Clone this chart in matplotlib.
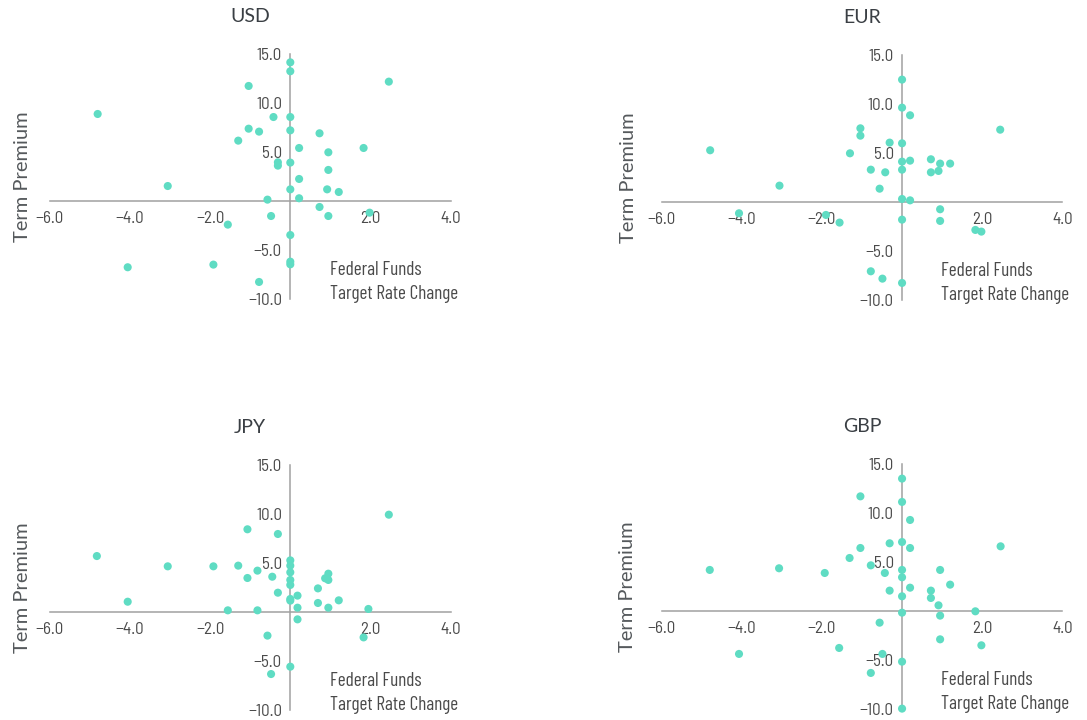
import matplotlib
matplotlib.use("Agg")
import matplotlib.pyplot as plt
from matplotlib import font_manager

# ---------------- data ----------------
usd_x = [0, 0, 2.46, -1.04, -4.81, -0.42, 0, -1.04, -0.78, 0, 0.73, -1.30, 0.22, 1.83,
         0.95, -0.31, -0.31, 0, 0.95, 0.22, -3.06, 0, 0.92, 1.21, 0.22, -0.57, 0.73,
         1.98, -0.48, 0.95, -1.56, 0, 0, 0, -4.06, -1.92, -0.78]
usd_y = [14.18, 13.27, 12.21, 11.77, 8.91, 8.60, 8.60, 7.41, 7.11, 7.24, 6.94, 6.19, 5.44,
         5.44, 5.00, 3.98, 3.64, 3.95, 3.20, 2.28, 1.56, 1.22, 1.22, 0.95, 0.31, 0.17,
         -0.58, -1.16, -1.50, -1.50, -2.38, -3.44, -6.16, -6.43, -6.73, -6.46, -8.23]

eur_x = [0, 0, 0.20, -1.04, -1.04, 2.45, -0.31, 0, -4.79, -1.30, 0.72, 0.20, 0, 0.95,
         1.20, -0.78, -0.42, 0, 0.72, 0.91, -3.06, -0.56, 0, 0.20, -4.07, 0.95, -1.90,
         -1.56, 0, 0.95, 1.83, 1.98, -0.78, -0.49, 0]
eur_y = [12.52, 9.66, 8.88, 7.55, 6.80, 7.41, 6.09, 6.02, 5.31, 5.00, 4.39, 4.25, 4.15,
         3.95, 3.95, 3.33, 3.06, 3.33, 3.06, 3.20, 1.70, 1.39, 0.34, 0.20, -1.12, -0.71,
         -1.29, -2.07, -1.77, -1.90, -2.82, -2.99, -7.04, -7.79, -8.23]

jpy_x = [2.46, -1.07, -0.31, -4.83, 0, 0, -3.06, -1.92, -1.30, -0.82, 0, 0.95, -1.07,
         -0.45, 0.87, 0.95, 0, 0, 0.69, -0.31, 0.18, 0, 0, 1.21, -4.06, 0.69, 0.18, 0.95,
         -1.56, -0.82, 1.95, 0.18, -0.57, 1.83, 0, -0.48]
jpy_y = [9.93, 8.44, 7.96, 5.71, 5.27, 4.73, 4.66, 4.66, 4.73, 4.22, 4.05, 3.91, 3.47,
         3.60, 3.44, 3.27, 3.27, 2.76, 2.41, 1.97, 1.67, 1.33, 1.16, 1.19, 1.05, 0.92,
         0.44, 0.44, 0.17, 0.17, 0.31, -0.75, -2.41, -2.59, -5.58, -6.33]

gbp_x = [0, 0, -1.04, 0.20, -0.31, 0, -1.04, 0.20, 2.46, -1.31, -0.78, -4.80, -3.07, 0,
         0.95, -1.93, -0.43, 0, 1.20, 0.20, -0.31, 0.72, 0, 0.72, 0.91, 0, 1.83, 0.95,
         -0.56, 0.95, -1.57, 1.98, -4.07, -0.49, 0, -0.78, 0]
gbp_y = [13.54, 11.16, 11.73, 9.32, 6.94, 7.07, 6.46, 6.46, 6.63, 5.44, 4.69, 4.22, 4.39,
         4.22, 4.22, 3.91, 3.91, 3.47, 2.72, 2.41, 2.11, 2.11, 1.53, 1.36, 0.61, -0.14,
         0.00, -0.44, -1.16, -2.86, -3.74, -3.47, -4.35, -4.35, -5.14, -6.29, -9.93]

titles = ["USD", "EUR", "JPY", "GBP"]
x_ticks = [-6, -4, -2, 2, 4]
y_ticks = [-10, -5, 5, 10, 15]
x_label_lines = ["Federal Funds", "Target Rate Change"]
y_label = "Term Premium"

# ---------------- style ----------------
W, H = 1087, 720
DOT = "#5fdcc3"
AXIS = "#a0a0a0"
TXT = "#4a4a4a"
TITLE = "#3a3f44"

names = {f.name for f in font_manager.fontManager.ttflist}


def pick(cands, default="DejaVu Sans"):
    for n in cands:
        if n in names:
            return n
    return default


COND = pick(["Barlow Condensed", "Fira Sans Extra Condensed", "Roboto Condensed",
             "Barlow Semi Condensed", "PT Sans Narrow", "Archivo Narrow", "Lato"])
SEMI = pick(["Barlow Semi Condensed", "Roboto Condensed", "Barlow Condensed", "Lato"])
REG = pick(["Lato"])
plt.rcParams["font.family"] = [COND, "DejaVu Sans"]

fig = plt.figure(figsize=(W / 100, H / 100), dpi=100)
fig.patch.set_facecolor("white")
renderer = fig.canvas.get_renderer()


def fit_size(text, family, target_px, base=14.0):
    t = fig.text(0, 0, text, fontsize=base, family=family)
    w = t.get_window_extent(renderer).width
    t.remove()
    return base * target_px / w


lab_size = min(fit_size(x_label_lines[1], [COND, "DejaVu Sans"], 128), 15)
tick_size = min(fit_size("\u221210.0", [SEMI, "DejaVu Sans"], 34), 13)

# pixel boxes: (x_left(-6), x_right(4), y_top(15), y_bottom(-10))
boxes = [(50, 450.5, 54.3, 299.3),
         (661.7, 1062.3, 55.3, 300.3),
         (50, 450.5, 465.0, 710.0),
         (661.7, 1062.3, 464.3, 709.3)]
ylab_x = [-0.068, -0.084, -0.068, -0.086]
datasets = [(usd_x, usd_y), (eur_x, eur_y), (jpy_x, jpy_y), (gbp_x, gbp_y)]

for (xs, ys), title, (x0, x1, yt, yb), ylx in zip(datasets, titles, boxes, ylab_x):
    ax = fig.add_axes([x0 / W, 1 - yb / H, (x1 - x0) / W, (yb - yt) / H])
    ax.set_xlim(-6, 4)
    ax.set_ylim(-10, 15)
    ax.patch.set_alpha(0)
    ax.scatter(xs, ys, s=34, color=DOT, edgecolors="none", zorder=3, clip_on=False)

    for side in ("top", "right"):
        ax.spines[side].set_visible(False)
    ax.spines["left"].set_position(("data", 0))
    ax.spines["bottom"].set_position(("data", 0))
    for side in ("left", "bottom"):
        ax.spines[side].set_color(AXIS)
        ax.spines[side].set_linewidth(1.1)
        ax.spines[side].set_zorder(1)

    ax.set_xticks(x_ticks)
    ax.set_xticklabels([f"{v:.1f}".replace("-", "\u2212") for v in x_ticks])
    ax.set_yticks(y_ticks)
    ax.set_yticklabels([f"{v:.1f}".replace("-", "\u2212") for v in y_ticks])
    ax.tick_params(axis="x", length=0, pad=7, labelsize=tick_size, labelcolor=TXT)
    ax.tick_params(axis="y", length=0, pad=6, labelsize=tick_size, labelcolor=TXT)
    for lab in ax.get_xticklabels() + ax.get_yticklabels():
        lab.set_family([SEMI, "DejaVu Sans"])

    ax.text(0.5, 1.155, title, transform=ax.transAxes, ha="center", va="center",
            fontsize=14, color=TITLE, family=[REG, "DejaVu Sans"])
    ax.text(ylx, 0.5, y_label, transform=ax.transAxes, ha="center", va="center",
            rotation=90, fontsize=14.5, color="#55595c", family=[REG, "DejaVu Sans"])
    ax.text(0.98, -7.0, x_label_lines[0], ha="left", va="center", fontsize=lab_size, color=TXT)
    ax.text(0.98, -9.5, x_label_lines[1], ha="left", va="center", fontsize=lab_size, color=TXT)

fig.savefig("out.png", dpi=100, facecolor="white")
